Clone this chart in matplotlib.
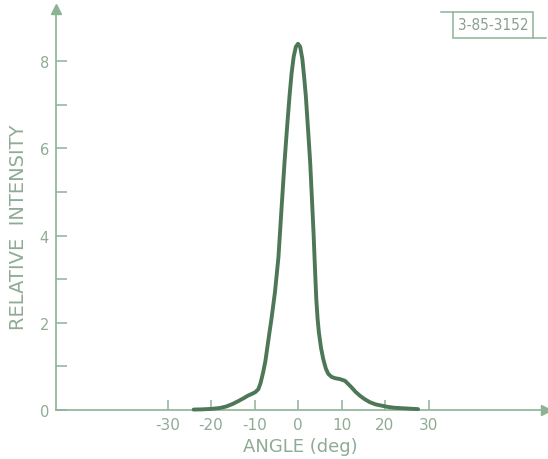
import matplotlib
matplotlib.use('Agg')
import matplotlib.pyplot as plt
from matplotlib.lines import Line2D
from matplotlib.patches import Rectangle

# angle (deg) vs relative intensity
angle = [-24.0, -22.0, -20.0, -18.0, -16.5, -15.0, -13.8, -12.5, -11.5, -10.6, -9.8,
         -9.1, -8.6, -8.0, -7.5, -7.1, -6.6, -6.1, -5.3, -4.5, -3.8, -3.1, -2.5,
         -1.95, -1.5, -1.0, -0.5, 0.0, 0.5, 1.0, 1.4, 1.8, 2.3, 2.8, 3.2, 3.6,
         3.9, 4.2, 4.5, 4.8, 5.3, 5.8, 6.4, 6.95, 7.7, 8.5, 9.6, 10.8, 11.5,
         12.3, 13.2, 14.2, 15.3, 16.5, 17.8, 19.2, 20.7, 22.3, 25.0, 27.6]
intensity = [0.01, 0.015, 0.025, 0.045, 0.08, 0.14, 0.2, 0.27, 0.33, 0.37, 0.41,
             0.48, 0.62, 0.87, 1.12, 1.4, 1.75, 2.09, 2.7, 3.5, 4.6, 5.68, 6.5,
             7.2, 7.7, 8.1, 8.33, 8.4, 8.33, 8.05, 7.65, 7.2, 6.45, 5.68, 4.85, 4.0,
             3.25, 2.55, 2.1, 1.78, 1.42, 1.17, 0.95, 0.83, 0.76, 0.73, 0.71, 0.67, 0.6,
             0.52, 0.42, 0.33, 0.25, 0.18, 0.13, 0.1, 0.07, 0.05, 0.035, 0.02]

xticks = [-30, -20, -10, 0, 10, 20, 30]
xtick_labels = ['-30', '-20', '-10', '0', '10', '20', '30']
yticks = [0, 2, 4, 6, 8]
yticks_minor = [1, 3, 5, 7]
fig_id = '3-85-3152'

axis_col = '#8db396'
text_col = '#8fab96'
curve_col = '#4e7757'

W, H = 548, 460
fig = plt.figure(figsize=(W / 100, H / 100), dpi=100)
fig.patch.set_facecolor('white')

# axes placed in pixel terms: y axis at x=56, x axis at y=411
left, right, bottom, top = 56, 546, 411, 10
ax = fig.add_axes([left / W, (H - bottom) / H, (right - left) / W, (bottom - top) / H])
x0, px_per_deg = 298, 4.35
ax.set_xlim((left - x0) / px_per_deg, (right - x0) / px_per_deg)
ax.set_ylim(0, (bottom - top) / 43.6)

ax.plot(angle, intensity, color=curve_col, lw=2.8, solid_capstyle='round',
        solid_joinstyle='round', clip_on=False, zorder=3)

for s in ['top', 'right']:
    ax.spines[s].set_visible(False)
for s in ['left', 'bottom']:
    ax.spines[s].set_color(axis_col)
    ax.spines[s].set_linewidth(1.2)

# arrow heads
ax.plot([1], [0], marker='>', color=axis_col, ms=7, transform=ax.transAxes, clip_on=False)
ax.plot([0], [1], marker='^', color=axis_col, ms=7, transform=ax.transAxes, clip_on=False)

ax.set_xticks(xticks)
ax.set_xticklabels(xtick_labels)
ax.set_xticks([0], minor=True)
ax.tick_params(axis='x', which='major', direction='in', length=7, width=1.1,
               color=axis_col, labelcolor=text_col, labelsize=11, pad=5)
ax.tick_params(axis='x', which='minor', direction='in', length=22, width=1.1,
               color=axis_col)

ax.set_yticks(yticks)
ax.set_yticks(yticks_minor, minor=True)
ax.tick_params(axis='y', which='both', direction='in', length=8, width=1.1,
               color=axis_col, labelcolor=text_col, labelsize=10.5, pad=5)

fig.text(300 / W, 1 - 447 / H, 'ANGLE (deg)', ha='center', va='center',
         color=text_col, fontsize=13)
fig.text(19 / W, 1 - 227 / H, 'RELATIVE  INTENSITY', ha='center', va='center',
         rotation=90, color=text_col, fontsize=14)

# figure number box in the corner
fig.add_artist(Rectangle((453 / W, 1 - 39 / H), 80 / W, 26 / H, fill=False,
                         edgecolor=axis_col, lw=1.1, transform=fig.transFigure))
fig.add_artist(Line2D([441 / W, 453 / W], [1 - 13 / H, 1 - 13 / H],
                      color=axis_col, lw=1.1, transform=fig.transFigure))
fig.add_artist(Line2D([533 / W, 546 / W], [1 - 39 / H, 1 - 39 / H],
                      color=axis_col, lw=1.1, transform=fig.transFigure))
fig.text(493 / W, 1 - 26 / H, fig_id, ha='center', va='center', color='#8a9e8f',
         fontsize=11, fontstretch='condensed')

fig.savefig('out.png', dpi=100)
